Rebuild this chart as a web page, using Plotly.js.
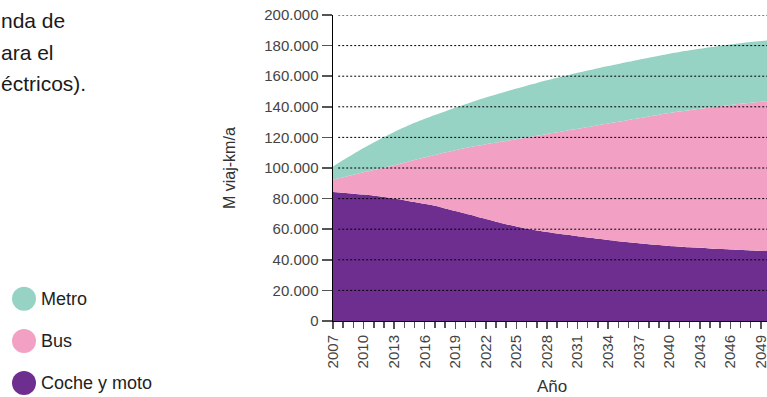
<!DOCTYPE html>
<html>
<head>
<meta charset="utf-8">
<script src="https://cdn.plot.ly/plotly-3.0.1.min.js"></script>
<style>html,body{margin:0;padding:0;background:#fff;}#chart{width:767px;height:397px;}</style>
</head>
<body>
<div id="chart"></div>
<script>
var years = [2007,2008,2009,2010,2011,2012,2013,2014,2015,2016,2017,2018,2019,2020,2021,2022,2023,2024,2025,2026,2027,2028,2029,2030,2031,2032,2033,2034,2035,2036,2037,2038,2039,2040,2041,2042,2043,2044,2045,2046,2047,2048,2049,2050];
var cocheMoto = [84300,83800,83200,82600,81900,81100,80100,79000,77800,76600,75300,73600,71900,70200,68400,66600,64900,63300,61800,60400,59200,58200,57200,56300,55400,54600,53800,53000,52200,51500,50800,50200,49600,49000,48600,48200,47800,47400,47000,46700,46400,46100,45800,45600];
var bus = [8100,10200,12400,14600,16800,19100,21700,24500,27400,30200,33200,36500,39700,42800,45900,48900,51700,54400,57000,59500,61800,64000,66100,68200,70200,72200,74200,76100,78000,79900,81700,83500,85200,86900,88300,89600,90900,92200,93400,94500,95600,96600,97500,98300];
var metro = [8600,11200,13600,15800,17900,20000,21800,23100,24300,25400,26200,26900,27700,28600,29600,30500,31400,32300,33100,33900,34600,35100,35700,36100,36600,36900,37200,37500,37800,38000,38300,38400,38600,38800,38900,39100,39200,39300,39400,39500,39500,39600,39700,39700];
var seriesNames = ["Coche y moto","Bus","Metro"];
var xTickVals = [2007,2010,2013,2016,2019,2022,2025,2028,2031,2034,2037,2040,2043,2046,2049];
var yTickVals = [0,20000,40000,60000,80000,100000,120000,140000,160000,180000,200000];
var titleLines = ["nda de","ara el","éctricos)."];
var legendOrder = ["Metro","Bus","Coche y moto"];

var colors = {"Coche y moto":"#6e2e8f","Bus":"#f2a0c4","Metro":"#96d3c5"};
var font = "Liberation Sans, Arial, Helvetica, sans-serif";

// layout geometry (px)
var W = 767, H = 397, L = 333, R = 0, T = 15, B = 76;
var pw = W - L - R, ph = H - T - B;
function px(x){ return (x - L) / pw; }
function py(y){ return (H - B - y) / ph; }

var vals = [cocheMoto, bus, metro];
var traces = seriesNames.map(function(n,i){
  return {x: years, y: vals[i], name: n, type: "scatter", mode: "lines",
    stackgroup: "one", line: {width: 0, color: colors[n], shape: "spline", smoothing: 0.8},
    fillcolor: colors[n], hoverinfo: "skip", showlegend: false};
});

var shapes = [];
yTickVals.forEach(function(v){
  if (v === 0) return;
  shapes.push({type:"line", layer:"above", xref:"paper", yref:"y", x0: 0.012, x1: 1, y0: v, y1: v,
    line:{color:"#000", width:1, dash:"2px,2px"}});
});
var annotations = [];
var legendY = [298.7, 341, 383];
legendOrder.forEach(function(n,i){
  shapes.push({type:"circle", xref:"paper", yref:"paper", xsizemode:"pixel", ysizemode:"pixel",
    xanchor: px(24), yanchor: py(legendY[i]), x0:-12, x1:12, y0:-12, y1:12,
    fillcolor: colors[n], line:{width:0}});
  annotations.push({xref:"paper", yref:"paper", x: px(39), y: py(legendY[i]), xanchor:"left", yanchor:"middle",
    text: n, showarrow:false, font:{family:font, size:18, color:"#222"}});
});
var titleY = [20, 52, 84];
titleLines.forEach(function(t,i){
  annotations.push({xref:"paper", yref:"paper", x: px(-1), y: py(titleY[i]), xanchor:"left", yanchor:"middle",
    text: t, showarrow:false, font:{family:font, size:21, color:"#1a1a1a"}});
});
annotations.push({xref:"paper", yref:"paper", x: px(552), y: py(386), xanchor:"center", yanchor:"middle",
  text:"Año", showarrow:false, font:{family:font, size:17, color:"#333"}});
annotations.push({xref:"paper", yref:"paper", x: px(229), y: py(168), xanchor:"center", yanchor:"middle",
  text:"M viaj-km/a", textangle:-90, showarrow:false, font:{family:font, size:16, color:"#333"}});

var layout = {
  width: W, height: H, margin:{l:L, r:R, t:T, b:B, pad:0},
  paper_bgcolor:"#fff", plot_bgcolor:"#fff",
  separators: ",.",
  showlegend:false,
  xaxis:{range:[2007, 2049.6], tickmode:"array", tickvals:xTickVals, ticktext:xTickVals.map(String),
    tickangle:-90, ticks:"outside", ticklen:7, tickwidth:1.5, tickcolor:"#555", ticklabeloverflow:"allow",
    minor:{dtick:1, tick0:2007, ticks:"outside", ticklen:6, tickwidth:1.5, tickcolor:"#555", showgrid:false},
    showgrid:false, zeroline:false, showline:true, linecolor:"#000", linewidth:1,
    tickfont:{family:font, size:15, color:"#444"}, fixedrange:true},
  yaxis:{range:[0,200000], tickmode:"array", tickvals:yTickVals, tickformat:",d",
    ticks:"outside", ticklen:10, tickwidth:1.5, tickcolor:"#555",
    showgrid:false, zeroline:false, showline:true, linecolor:"#000", linewidth:1.5,
    tickfont:{family:font, size:15, color:"#444"}, fixedrange:true},
  shapes: shapes,
  annotations: annotations
};
Plotly.newPlot("chart", traces, layout, {staticPlot:true, displayModeBar:false});
</script>
</body>
</html>
